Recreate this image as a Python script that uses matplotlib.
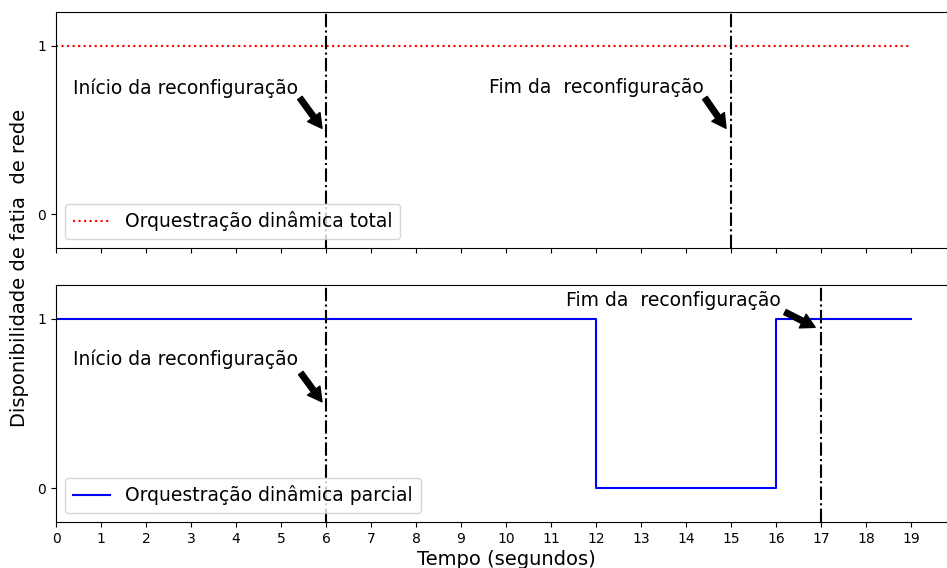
import matplotlib.pyplot as plt
import numpy as np

# Tempo (segundos) e disponibilidade da fatia
tempo = list(range(0, 20))
disp_total = [1] * 20
disp_parcial = [1, 1, 1, 1, 1, 1, 1, 1, 1, 1, 1, 1, 0, 0, 0, 0, 1, 1, 1, 1]

inicio_total, fim_total = 6, 15
inicio_parcial, fim_parcial = 6, 17

fig = plt.figure(figsize=(9.47, 5.68), dpi=100)
ax1 = fig.add_axes([56/947, 1 - 248/568, 900/947, 236/568])
ax2 = fig.add_axes([56/947, 1 - 522/568, 900/947, 237/568], sharex=ax1)

arrow = dict(facecolor='black', width=4, headwidth=11, headlength=10, shrink=0)

# Orquestração total
ax1.plot(tempo, disp_total, ':', color='red', lw=1.5, label='Orquestração dinâmica total')
ax1.axvline(inicio_total, color='black', linestyle='-.', lw=1.5)
ax1.axvline(fim_total, color='black', linestyle='-.', lw=1.5)
ax1.text(0.38, 0.75, 'Início da reconfiguração', fontsize=13.5, va='center')
ax1.annotate('', xy=(5.91, 0.51), xytext=(5.42, 0.69), arrowprops=arrow)
ax1.text(9.62, 0.75, 'Fim da  reconfiguração', fontsize=13.5, va='center')
ax1.annotate('', xy=(14.89, 0.51), xytext=(14.42, 0.69), arrowprops=arrow)
ax1.legend(loc='lower left', fontsize=13.5)
ax1.set_ylim(-0.2, 1.2)
ax1.set_yticks([0, 1])
ax1.tick_params(labelbottom=False)

# Orquestração parcial
ax2.plot(tempo, disp_parcial, color='blue', lw=1.5, drawstyle='steps-post',
         label='Orquestração dinâmica parcial')
ax2.axvline(inicio_parcial, color='black', linestyle='-.', lw=1.5)
ax2.axvline(fim_parcial, color='black', linestyle='-.', lw=1.5)
ax2.text(0.38, 0.76, 'Início da reconfiguração', fontsize=13.5, va='center')
ax2.annotate('', xy=(5.91, 0.51), xytext=(5.44, 0.68), arrowprops=arrow)
ax2.text(11.33, 1.11, 'Fim da  reconfiguração', fontsize=13.5, va='center')
ax2.annotate('', xy=(16.87, 0.95), xytext=(16.2, 1.04), arrowprops=arrow)
ax2.legend(loc='lower left', fontsize=13.5)
ax2.set_ylim(-0.2, 1.2)
ax2.set_yticks([0, 1])
ax2.set_xlim(0, 20)
ax2.set_xticks(tempo)
ax2.set_xlabel('Tempo (segundos)', fontsize=14, labelpad=3)

fig.text(0.021, 0.528, 'Disponibilidade de fatia  de rede', rotation=90,
         va='center', ha='center', fontsize=14)

plt.savefig('out.png', dpi=100)
